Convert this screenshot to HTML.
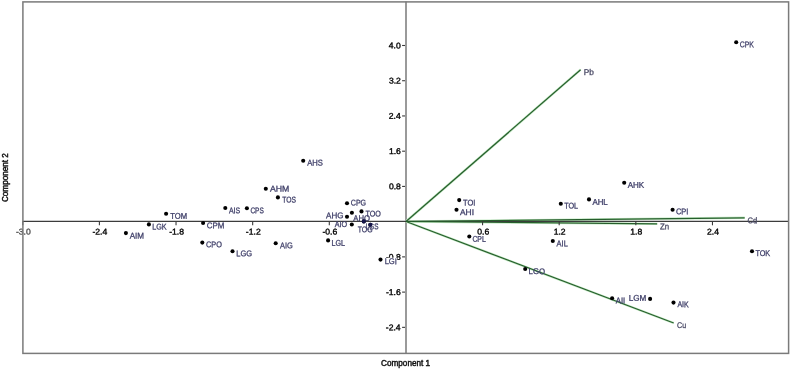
<!DOCTYPE html>
<html><head><meta charset="utf-8"><style>
html,body{margin:0;padding:0;background:#fff;overflow:hidden;}
svg{display:block;}
text{font-family:"Liberation Sans",sans-serif;}
.lb{stroke:#40406a;stroke-width:0.3px;}
.tk{stroke:#000;stroke-width:0.35px;}
</style></head><body>
<svg width="791" height="370" viewBox="0 0 791 370">
<rect x="0" y="0" width="791" height="370" fill="#fff"/>
<line x1="406" y1="1.5" x2="406" y2="353.5" stroke="#9a9a9a" stroke-width="2"/>
<line x1="406.0" y1="221.5" x2="580.6" y2="69.7" stroke="#c6ebc6" stroke-width="2.4"/>
<line x1="406.0" y1="221.5" x2="744.7" y2="217.8" stroke="#c6ebc6" stroke-width="2.4"/>
<line x1="406.0" y1="221.5" x2="657.2" y2="223.9" stroke="#c6ebc6" stroke-width="2.4"/>
<line x1="406.0" y1="221.5" x2="673.7" y2="323.0" stroke="#c6ebc6" stroke-width="2.4"/>
<line x1="22.5" y1="221.4" x2="788.5" y2="221.4" stroke="#3c3c3c" stroke-width="1.1"/>
<line x1="406.0" y1="221.5" x2="580.6" y2="69.7" stroke="#265e2c" stroke-width="1.2"/>
<line x1="406.0" y1="221.5" x2="744.7" y2="217.8" stroke="#265e2c" stroke-width="1.2"/>
<line x1="406.0" y1="221.5" x2="657.2" y2="223.9" stroke="#265e2c" stroke-width="1.2"/>
<line x1="406.0" y1="221.5" x2="673.7" y2="323.0" stroke="#265e2c" stroke-width="1.2"/>
<line x1="22.77" y1="221.4" x2="22.77" y2="225.3" stroke="#3a3a3a" stroke-width="1.1"/>
<line x1="99.40" y1="221.4" x2="99.40" y2="225.3" stroke="#3a3a3a" stroke-width="1.1"/>
<line x1="176.03" y1="221.4" x2="176.03" y2="225.3" stroke="#3a3a3a" stroke-width="1.1"/>
<line x1="252.67" y1="221.4" x2="252.67" y2="225.3" stroke="#3a3a3a" stroke-width="1.1"/>
<line x1="329.30" y1="221.4" x2="329.30" y2="225.3" stroke="#3a3a3a" stroke-width="1.1"/>
<line x1="482.56" y1="221.4" x2="482.56" y2="225.3" stroke="#3a3a3a" stroke-width="1.1"/>
<line x1="559.19" y1="221.4" x2="559.19" y2="225.3" stroke="#3a3a3a" stroke-width="1.1"/>
<line x1="635.83" y1="221.4" x2="635.83" y2="225.3" stroke="#3a3a3a" stroke-width="1.1"/>
<line x1="712.46" y1="221.4" x2="712.46" y2="225.3" stroke="#3a3a3a" stroke-width="1.1"/>
<line x1="402.1" y1="45.49" x2="405" y2="45.49" stroke="#3a3a3a" stroke-width="1.1"/>
<line x1="402.1" y1="80.72" x2="405" y2="80.72" stroke="#3a3a3a" stroke-width="1.1"/>
<line x1="402.1" y1="115.95" x2="405" y2="115.95" stroke="#3a3a3a" stroke-width="1.1"/>
<line x1="402.1" y1="151.19" x2="405" y2="151.19" stroke="#3a3a3a" stroke-width="1.1"/>
<line x1="402.1" y1="186.42" x2="405" y2="186.42" stroke="#3a3a3a" stroke-width="1.1"/>
<line x1="402.1" y1="256.88" x2="405" y2="256.88" stroke="#3a3a3a" stroke-width="1.1"/>
<line x1="402.1" y1="292.11" x2="405" y2="292.11" stroke="#3a3a3a" stroke-width="1.1"/>
<line x1="402.1" y1="327.35" x2="405" y2="327.35" stroke="#3a3a3a" stroke-width="1.1"/>
<text class="tk" style="stroke:#505050" transform="translate(15.90,234.57) rotate(0.05) scale(1.04,1)" font-size="8.3" fill="#505050">-3.0</text>
<text class="tk" style="stroke:#000" transform="translate(92.46,234.57) rotate(0.05) scale(1.04,1)" font-size="8.3" fill="#000">-2.4</text>
<text class="tk" style="stroke:#000" transform="translate(169.16,234.57) rotate(0.05) scale(1.04,1)" font-size="8.3" fill="#000">-1.8</text>
<text class="tk" style="stroke:#000" transform="translate(245.86,234.57) rotate(0.05) scale(1.04,1)" font-size="8.3" fill="#000">-1.2</text>
<text class="tk" style="stroke:#000" transform="translate(322.42,234.57) rotate(0.05) scale(1.04,1)" font-size="8.3" fill="#000">-0.6</text>
<text class="tk" style="stroke:#000" transform="translate(477.25,234.57) rotate(0.05) scale(1.04,1)" font-size="8.3" fill="#000">0.6</text>
<text class="tk" style="stroke:#000" transform="translate(553.68,234.57) rotate(0.05) scale(1.04,1)" font-size="8.3" fill="#000">1.2</text>
<text class="tk" style="stroke:#000" transform="translate(630.32,234.57) rotate(0.05) scale(1.04,1)" font-size="8.3" fill="#000">1.8</text>
<text class="tk" style="stroke:#000" transform="translate(707.01,234.57) rotate(0.05) scale(1.04,1)" font-size="8.3" fill="#000">2.4</text>
<text class="tk" transform="translate(388.80,48.37) rotate(0.05) scale(1.04,1)" font-size="8.3" fill="#000">4.0</text>
<text class="tk" transform="translate(388.93,83.60) rotate(0.05) scale(1.04,1)" font-size="8.3" fill="#000">3.2</text>
<text class="tk" transform="translate(388.80,118.83) rotate(0.05) scale(1.04,1)" font-size="8.3" fill="#000">2.4</text>
<text class="tk" transform="translate(388.93,154.06) rotate(0.05) scale(1.04,1)" font-size="8.3" fill="#000">1.6</text>
<text class="tk" transform="translate(388.93,189.29) rotate(0.05) scale(1.04,1)" font-size="8.3" fill="#000">0.8</text>
<text class="tk" transform="translate(385.94,259.76) rotate(0.05) scale(1.04,1)" font-size="8.3" fill="#000">-0.8</text>
<text class="tk" transform="translate(385.94,294.99) rotate(0.05) scale(1.04,1)" font-size="8.3" fill="#000">-1.6</text>
<text class="tk" transform="translate(385.81,330.22) rotate(0.05) scale(1.04,1)" font-size="8.3" fill="#000">-2.4</text>
<rect x="22.9" y="1.9" width="765.7" height="351.5" fill="none" stroke="#7a7a7a" stroke-width="1.5"/>
<text transform="translate(583.68,75.03) rotate(0.05) scale(0.997,1)" font-size="8.3" fill="#4a4a66" class="lb" style="stroke:#4a4a66">Pb</text>
<text transform="translate(747.46,223.18) rotate(0.05) scale(0.913,1)" font-size="8.3" fill="#4a4a66" class="lb" style="stroke:#4a4a66">Cd</text>
<text transform="translate(660.06,229.28) rotate(0.05) scale(0.946,1)" font-size="8.3" fill="#4a4a66" class="lb" style="stroke:#4a4a66">Zn</text>
<text transform="translate(677.08,328.02) rotate(0.05) scale(0.851,1)" font-size="8.3" fill="#4a4a66" class="lb" style="stroke:#4a4a66">Cu</text>
<circle cx="125.9" cy="233.1" r="2.05" fill="#000"/>
<circle cx="148.9" cy="224.4" r="2.05" fill="#000"/>
<circle cx="166.1" cy="213.8" r="2.05" fill="#000"/>
<circle cx="203.1" cy="223.0" r="2.05" fill="#000"/>
<circle cx="202.3" cy="242.6" r="2.05" fill="#000"/>
<circle cx="225.3" cy="208.0" r="2.05" fill="#000"/>
<circle cx="246.9" cy="208.2" r="2.05" fill="#000"/>
<circle cx="232.5" cy="251.2" r="2.05" fill="#000"/>
<circle cx="265.8" cy="188.8" r="2.05" fill="#000"/>
<circle cx="277.9" cy="197.4" r="2.05" fill="#000"/>
<circle cx="275.7" cy="243.3" r="2.05" fill="#000"/>
<circle cx="303.2" cy="160.8" r="2.05" fill="#000"/>
<circle cx="347.0" cy="203.2" r="2.05" fill="#000"/>
<circle cx="347.0" cy="216.7" r="2.05" fill="#000"/>
<circle cx="351.9" cy="212.8" r="2.05" fill="#000"/>
<circle cx="361.5" cy="211.4" r="2.05" fill="#000"/>
<circle cx="351.8" cy="224.5" r="2.05" fill="#000"/>
<circle cx="363.8" cy="221.4" r="2.05" fill="#000"/>
<circle cx="370.3" cy="224.8" r="2.05" fill="#000"/>
<circle cx="328.1" cy="240.4" r="2.05" fill="#000"/>
<circle cx="380.5" cy="259.6" r="2.05" fill="#000"/>
<circle cx="459.2" cy="200.1" r="2.05" fill="#000"/>
<circle cx="456.5" cy="209.8" r="2.05" fill="#000"/>
<circle cx="469.3" cy="236.5" r="2.05" fill="#000"/>
<circle cx="560.8" cy="203.8" r="2.05" fill="#000"/>
<circle cx="589.0" cy="199.4" r="2.05" fill="#000"/>
<circle cx="624.2" cy="182.7" r="2.05" fill="#000"/>
<circle cx="672.6" cy="209.7" r="2.05" fill="#000"/>
<circle cx="552.8" cy="241.0" r="2.05" fill="#000"/>
<circle cx="525.2" cy="269.0" r="2.05" fill="#000"/>
<circle cx="612.1" cy="298.3" r="2.05" fill="#000"/>
<circle cx="650.1" cy="298.9" r="2.05" fill="#000"/>
<circle cx="673.5" cy="302.6" r="2.05" fill="#000"/>
<circle cx="736.2" cy="42.2" r="2.05" fill="#000"/>
<circle cx="752.0" cy="251.2" r="2.05" fill="#000"/>
<rect x="384.6" y="257.7" width="12.6" height="7.5" fill="#fff"/>
<text transform="translate(129.70,238.38) rotate(0.05) scale(0.977,1)" font-size="8.3" fill="#40406a" class="lb">AIM</text>
<text transform="translate(152.26,229.48) rotate(0.05) scale(0.869,1)" font-size="8.3" fill="#40406a" class="lb">LGK</text>
<text transform="translate(170.18,218.72) rotate(0.05) scale(0.926,1)" font-size="8.3" fill="#40406a" class="lb">TOM</text>
<text transform="translate(206.84,228.18) rotate(0.05) scale(0.955,1)" font-size="8.3" fill="#40406a" class="lb">CPM</text>
<text transform="translate(206.07,247.32) rotate(0.05) scale(0.881,1)" font-size="8.3" fill="#40406a" class="lb">CPO</text>
<text transform="translate(228.90,213.18) rotate(0.05) scale(0.846,1)" font-size="8.3" fill="#40406a" class="lb">AIS</text>
<text transform="translate(250.40,213.18) rotate(0.05) scale(0.788,1)" font-size="8.3" fill="#40406a" class="lb">CPS</text>
<text transform="translate(236.23,256.32) rotate(0.05) scale(0.905,1)" font-size="8.3" fill="#40406a" class="lb">LGG</text>
<text transform="translate(269.90,191.38) rotate(0.05) scale(1.054,1)" font-size="8.3" fill="#40406a" class="lb">AHM</text>
<text transform="translate(282.20,202.38) rotate(0.05) scale(0.812,1)" font-size="8.3" fill="#40406a" class="lb">TOS</text>
<text transform="translate(280.10,248.22) rotate(0.05) scale(0.895,1)" font-size="8.3" fill="#40406a" class="lb">AIG</text>
<text transform="translate(307.20,165.57) rotate(0.05) scale(0.919,1)" font-size="8.3" fill="#40406a" class="lb">AHS</text>
<text transform="translate(350.78,205.43) rotate(0.05) scale(0.853,1)" font-size="8.3" fill="#40406a" class="lb">CPG</text>
<text transform="translate(326.10,218.32) rotate(0.05) scale(0.967,1)" font-size="8.3" fill="#40406a" class="lb">AHG</text>
<text transform="translate(353.30,221.07) rotate(0.05) scale(0.930,1)" font-size="8.3" fill="#40406a" class="lb">AHO</text>
<text transform="translate(365.49,216.38) rotate(0.05) scale(0.863,1)" font-size="8.3" fill="#40406a" class="lb">TOO</text>
<text transform="translate(334.80,227.03) rotate(0.05) scale(0.865,1)" font-size="8.3" fill="#40406a" class="lb">AIO</text>
<text transform="translate(357.80,232.28) rotate(0.05) scale(0.829,1)" font-size="8.3" fill="#40406a" class="lb">TOG</text>
<text transform="translate(365.72,229.18) rotate(0.05) scale(0.768,1)" font-size="8.3" fill="#40406a" class="lb">LGS</text>
<text transform="translate(331.56,245.68) rotate(0.05) scale(0.861,1)" font-size="8.3" fill="#40406a" class="lb">LGL</text>
<text transform="translate(384.63,264.12) rotate(0.05) scale(0.917,1)" font-size="8.3" fill="#40406a" class="lb">LGI</text>
<text transform="translate(463.09,205.43) rotate(0.05) scale(0.902,1)" font-size="8.3" fill="#40406a" class="lb">TOI</text>
<text transform="translate(460.00,215.07) rotate(0.05) scale(1.013,1)" font-size="8.3" fill="#40406a" class="lb">AHI</text>
<text transform="translate(472.39,241.82) rotate(0.05) scale(0.832,1)" font-size="8.3" fill="#40406a" class="lb">CPL</text>
<text transform="translate(564.19,208.52) rotate(0.05) scale(0.870,1)" font-size="8.3" fill="#40406a" class="lb">TOL</text>
<text transform="translate(592.40,204.73) rotate(0.05) scale(0.951,1)" font-size="8.3" fill="#40406a" class="lb">AHL</text>
<text transform="translate(627.70,187.78) rotate(0.05) scale(0.966,1)" font-size="8.3" fill="#40406a" class="lb">AHK</text>
<text transform="translate(675.96,214.22) rotate(0.05) scale(0.902,1)" font-size="8.3" fill="#40406a" class="lb">CPI</text>
<text transform="translate(556.60,246.27) rotate(0.05) scale(0.898,1)" font-size="8.3" fill="#40406a" class="lb">AIL</text>
<text transform="translate(528.61,274.12) rotate(0.05) scale(0.939,1)" font-size="8.3" fill="#40406a" class="lb">LGO</text>
<text transform="translate(615.80,303.23) rotate(0.05) scale(0.928,1)" font-size="8.3" fill="#40406a" class="lb">AII</text>
<text transform="translate(628.79,300.77) rotate(0.05) scale(0.980,1)" font-size="8.3" fill="#40406a" class="lb">LGM</text>
<text transform="translate(677.40,307.12) rotate(0.05) scale(0.845,1)" font-size="8.3" fill="#40406a" class="lb">AIK</text>
<text transform="translate(739.79,47.17) rotate(0.05) scale(0.830,1)" font-size="8.3" fill="#40406a" class="lb">CPK</text>
<text transform="translate(755.39,255.93) rotate(0.05) scale(0.878,1)" font-size="8.3" fill="#40406a" class="lb">TOK</text>
<circle cx="363.8" cy="221.4" r="2.05" fill="#15154a"/>
<circle cx="370.3" cy="224.8" r="2.05" fill="#15154a"/>
<text class="tk" style="stroke:#111;stroke-width:0.45px" x="405.6" y="366.0" font-size="8.5" fill="#111" text-anchor="middle" textLength="49" lengthAdjust="spacingAndGlyphs">Component 1</text>
<text class="tk" style="stroke:#111;stroke-width:0.45px" transform="translate(8.2,177.6) rotate(-90)" x="0" y="0" font-size="8.5" fill="#111" text-anchor="middle" textLength="49" lengthAdjust="spacingAndGlyphs">Component 2</text>
</svg></body></html>
